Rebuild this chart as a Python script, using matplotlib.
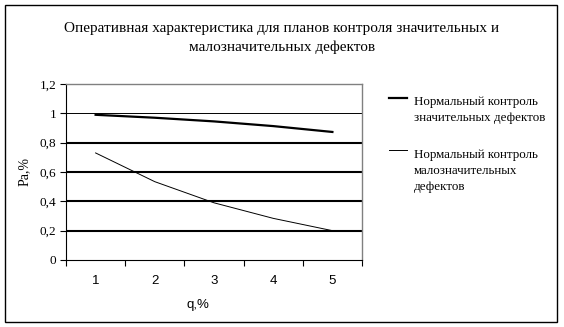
import matplotlib
matplotlib.use("Agg")
import matplotlib.pyplot as plt
from matplotlib.patches import Rectangle

# values
q = [1, 2, 3, 4, 5]
pa_major = [0.99, 0.97, 0.945, 0.913, 0.873]
pa_minor = [0.73, 0.534, 0.39, 0.284, 0.20]
y_ticks = [0, 0.2, 0.4, 0.6, 0.8, 1.0, 1.2]
y_labels = ["0", "0,2", "0,4", "0,6", "0,8", "1", "1,2"]
title = "Оперативная характеристика для планов контроля значительных и\nмалозначительных дефектов"
label_major = "Нормальный контроль\nзначительных дефектов"
label_minor = "Нормальный контроль\nмалозначительных\nдефектов"

serif = "Liberation Serif"
sans = "Liberation Sans"

fig = plt.figure(figsize=(5.64, 3.27), dpi=100)
ax = fig.add_axes([66 / 564, 67 / 327, 296 / 564, 176 / 327])

# horizontal grid lines, the one at 1 is thinner in the original
for y in y_ticks[1:-1]:
    ax.axhline(y, color="black", lw=0.7 if y == 1.0 else 1.5, zorder=1)

ax.plot(q, pa_major, color="black", lw=1.6, label=label_major, zorder=3)
ax.plot(q, pa_minor, color="black", lw=0.7, label=label_minor, zorder=3)

ax.set_xlim(0.5, 5.5)
ax.set_ylim(0, 1.2)

# category axis: ticks between categories, labels at the centres
ax.set_xticks([0.5, 1.5, 2.5, 3.5, 4.5, 5.5])
ax.set_xticklabels([])
ax.set_xticks(q, minor=True)
ax.set_xticklabels([str(v) for v in q], minor=True, fontfamily=sans, fontsize=9.5)
ax.tick_params(axis="x", which="major", direction="out", length=4, width=0.8)
ax.tick_params(axis="x", which="minor", length=0, pad=11)

ax.set_yticks(y_ticks)
ax.set_yticklabels(y_labels, fontfamily=serif, fontsize=9.5)
ax.tick_params(axis="y", direction="out", length=4, width=0.8, pad=3)

for side in ["top", "right"]:
    ax.spines[side].set_color("#808080")
    ax.spines[side].set_linewidth(1.0)
for side in ["left", "bottom"]:
    ax.spines[side].set_linewidth(0.8)

ax.set_ylabel("Pa,%", fontfamily=serif, fontsize=10)
ax.yaxis.set_label_coords(-0.12, 0.5)
ax.set_xlabel("q,%", fontfamily=sans, fontsize=9.5)
ax.xaxis.set_label_coords(0.446, -0.22)

leg = ax.legend(loc="upper left", bbox_to_anchor=(1.05, 1.0), frameon=False,
                prop={"family": serif, "size": 9.4}, handlelength=1.4,
                handletextpad=0.55, labelspacing=1.9)
for t in leg.get_texts():
    t.set_linespacing(1.45)
# in the original the legend sample sits next to the first text line
for line, shift in zip(leg.get_lines(), [8.5, 15.0]):
    yd = line.get_ydata()
    line.set_ydata([v + shift for v in yd])

fig.text(0.5, 0.884, title, ha="center", va="center", fontfamily=serif,
         fontsize=11, linespacing=1.5)

# outer frame around the whole chart
fig.patches.append(Rectangle((5 / 564, 5 / 327), 552 / 564, 317 / 327,
                             transform=fig.transFigure, fill=False,
                             edgecolor="black", lw=1.0))

fig.savefig("out.png", dpi=100)
